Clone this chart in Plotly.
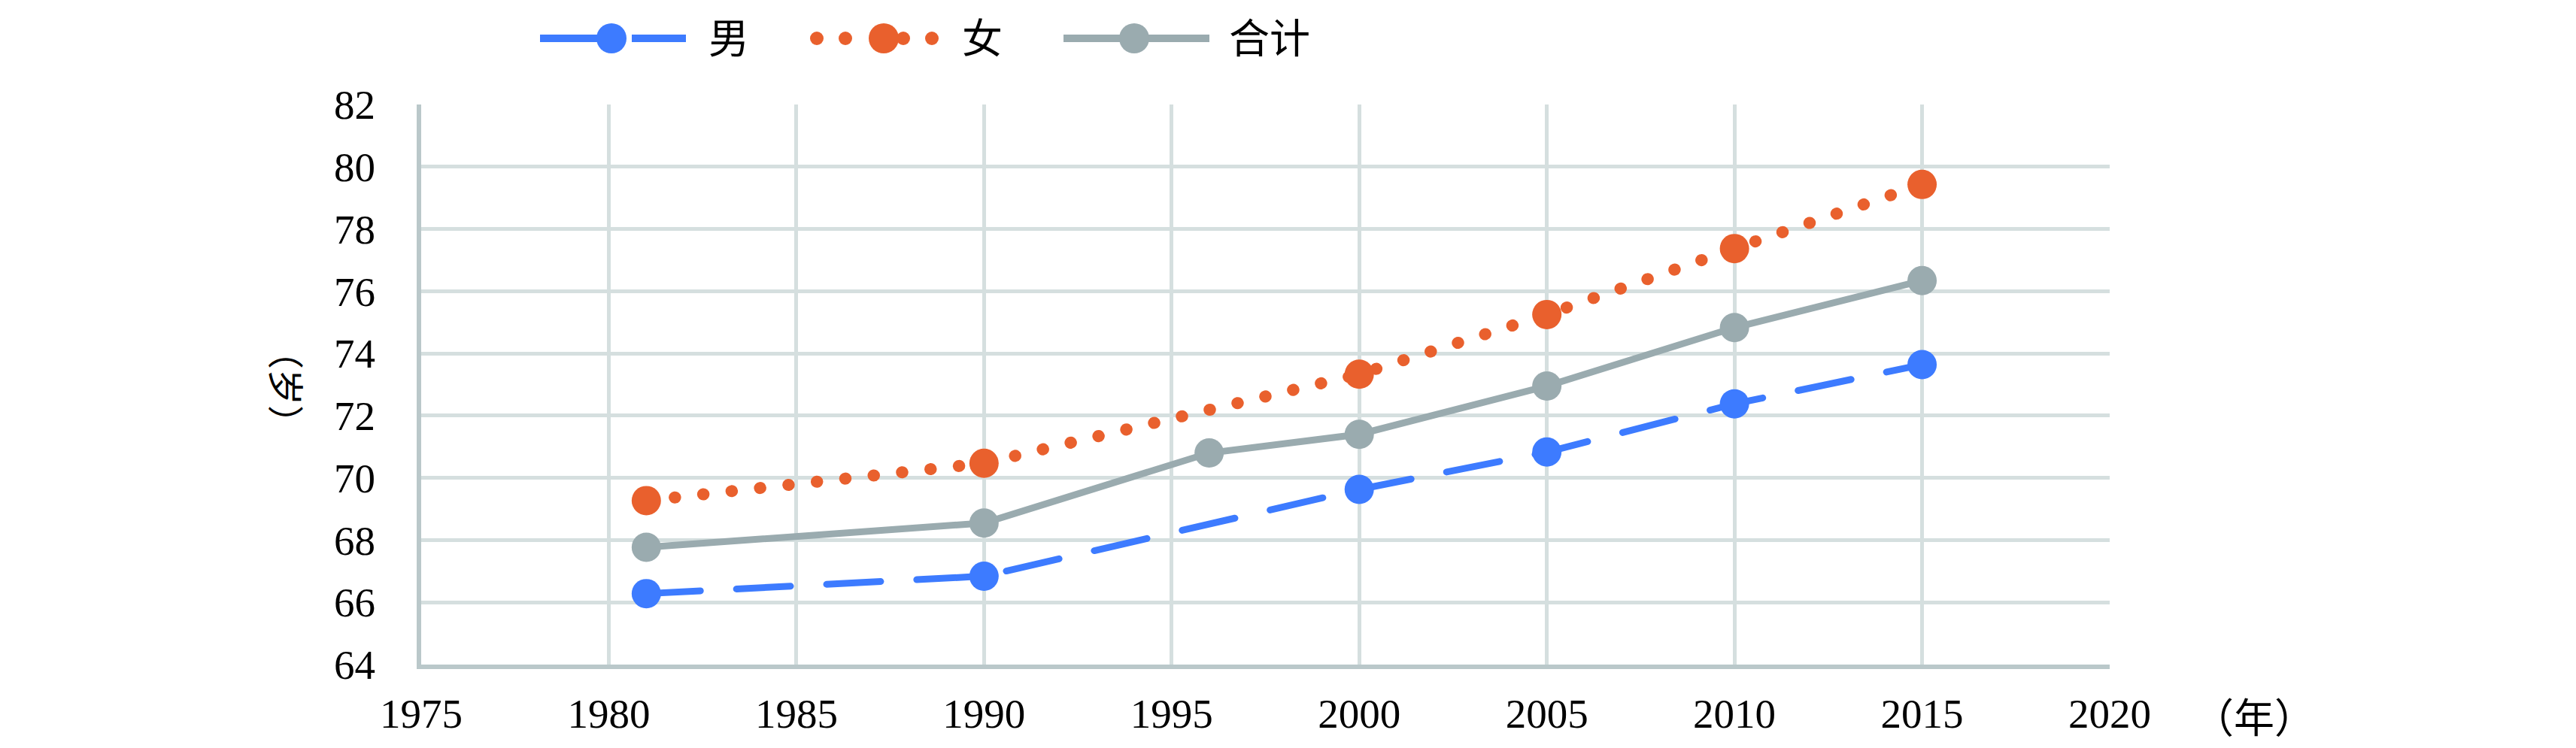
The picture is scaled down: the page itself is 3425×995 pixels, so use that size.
import plotly.graph_objects as go

# ---- data ----
years_mf = [1981, 1990, 2000, 2005, 2010, 2015]
male = [66.28, 66.84, 69.63, 70.83, 72.38, 73.64]
female = [69.27, 70.47, 73.33, 75.25, 77.37, 79.43]
years_total = [1981, 1990, 1996, 2000, 2005, 2010, 2015]
total = [67.77, 68.55, 70.80, 71.40, 72.95, 74.83, 76.34]
series_names = ["男", "女", "合计"]
x_ticks = [1975, 1980, 1985, 1990, 1995, 2000, 2005, 2010, 2015, 2020]
y_ticks = [64, 66, 68, 70, 72, 74, 76, 78, 80, 82]
x_unit = "（年）"
y_unit = "（岁）"

BLUE = "#3D7BFF"
ORANGE = "#E9602D"
GREY = "#9AABAF"
GRID = "#D5DFDF"
AXIS = "#BAC8CA"

W, H = 3425, 995
ML, MR, MT, MB = 560, 620, 139, 111
PW, PH = W - ML - MR, H - MT - MB


def px(x):
    return (x - ML) / PW


def py(y):
    return (H - MB - y) / PH


fig = go.Figure()
fig.add_trace(go.Scatter(x=years_mf, y=male, name=series_names[0], mode="lines+markers",
                         line=dict(color=BLUE, width=9, dash="72px,48px"),
                         marker=dict(color=BLUE, size=39), showlegend=False))
fig.add_trace(go.Scatter(x=years_mf, y=female, name=series_names[1], mode="lines+markers",
                         line=dict(color=ORANGE, width=16, dash="0.5px,37.5px"),
                         marker=dict(color=ORANGE, size=39), showlegend=False))
fig.add_trace(go.Scatter(x=years_total, y=total, name=series_names[2], mode="lines+markers",
                         line=dict(color=GREY, width=9),
                         marker=dict(color=GREY, size=39), showlegend=False))

tickfont = dict(family="Liberation Serif, Times New Roman, serif", size=55, color="black")
fig.update_xaxes(range=[x_ticks[0], x_ticks[-1]], tickvals=x_ticks, ticktext=[str(v) for v in x_ticks],
                 showgrid=True, gridcolor=GRID, gridwidth=5, zeroline=False,
                 showline=True, linecolor=AXIS, linewidth=6,
                 ticks="", tickfont=tickfont, ticklabelstandoff=12)
fig.update_yaxes(range=[y_ticks[0], y_ticks[-1]], tickvals=y_ticks, ticktext=[str(v) for v in y_ticks],
                 showgrid=True, gridcolor=GRID, gridwidth=5, zeroline=False,
                 showline=True, linecolor=AXIS, linewidth=6,
                 ticks="", tickfont=tickfont, ticklabelstandoff=44)

cjk = "Noto Sans CJK SC"
annotations = [
    dict(text=y_unit, x=px(383), y=py(515), xref="paper", yref="paper", showarrow=False,
         textangle=90, font=dict(family=cjk, size=48, color="black"), xanchor="center", yanchor="middle"),
    dict(text=x_unit, x=px(2997), y=py(952), xref="paper", yref="paper", showarrow=False,
         font=dict(family=cjk, size=54, color="black"), xanchor="center", yanchor="middle"),
]

# ---- manual legend ----
shapes = []
leg_y = py(51)


def circle(cx, r, color):
    return dict(type="circle", xref="paper", yref="paper", xsizemode="pixel", ysizemode="pixel",
                xanchor=px(cx), yanchor=leg_y, x0=-r, x1=r, y0=-r, y1=r,
                fillcolor=color, line=dict(width=0), layer="above")


def seg(x0, x1, color):
    return dict(type="line", xref="paper", yref="paper", x0=px(x0), x1=px(x1), y0=leg_y, y1=leg_y,
                line=dict(color=color, width=10), layer="above")


# 男
shapes += [seg(718, 813, BLUE), seg(840, 912, BLUE), circle(813, 20, BLUE)]
# 女
shapes += [circle(1086, 9, ORANGE), circle(1124, 9, ORANGE), circle(1201, 9, ORANGE),
           circle(1239, 9, ORANGE), circle(1175, 20, ORANGE)]
# 合计
shapes += [seg(1414, 1608, GREY), circle(1508, 20, GREY)]

for name, x in zip(series_names, [940, 1277, 1632]):
    annotations.append(dict(text=name, x=px(x), y=py(48), xref="paper", yref="paper", showarrow=False,
                            font=dict(family=cjk, size=54, color="black"), xanchor="left", yanchor="middle"))

fig.update_layout(width=W, height=H, margin=dict(l=ML, r=MR, t=MT, b=MB, autoexpand=False),
                  plot_bgcolor="white", paper_bgcolor="white", showlegend=False,
                  annotations=annotations, shapes=shapes)

post = """
document.body.style.margin = '0';
document.body.style.padding = '0';
var gd = document.getElementById('{plot_id}');
gd.querySelectorAll('.scatterlayer .js-line').forEach(function(p){ p.style.strokeLinecap = 'round'; });
"""
fig.write_html("out.html", post_script=post, config={"displayModeBar": False})
